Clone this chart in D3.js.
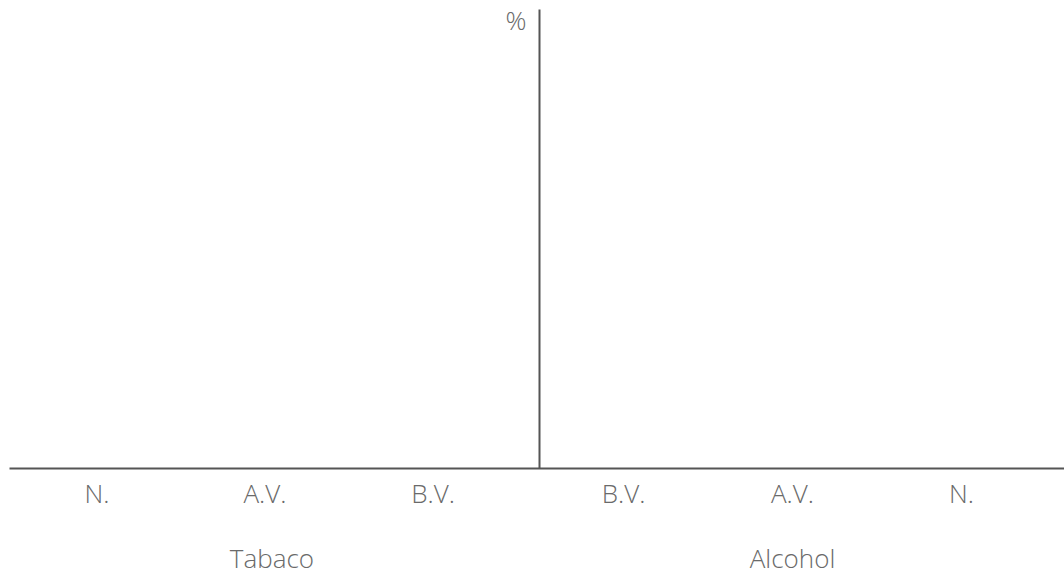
<!DOCTYPE html>
<html>
<head>
<meta charset="utf-8">
<script src="https://cdn.jsdelivr.net/npm/d3@7"></script>
<style>
  html, body { margin: 0; padding: 0; background: #fff; }
  svg text { font-family: "Open Sans", "Lato", sans-serif; font-weight: 300; fill: #6a6a6a; }
</style>
</head>
<body>
<svg id="chart" width="1064" height="580"></svg>
<script>
// Data
const groups = ["Tabaco", "Alcohol"];
const tabacoCategories = ["N.", "A.V.", "B.V."];
const alcoholCategories = ["B.V.", "A.V.", "N."];
const tabacoValues = [];   // no bars shown in reference
const alcoholValues = [];  // no bars shown in reference
const yLabel = "%";

const W = 1064, H = 580;
const baseY = 468, topY = 9, leftX = 9, midX = 539, rightX = 1064;
const svg = d3.select("#chart");

const xLeft = d3.scaleBand().domain(tabacoCategories).range([13, 517]);
const xRight = d3.scaleBand().domain(alcoholCategories).range([539, 1046]);
const y = d3.scaleLinear().domain([0, 100]).range([baseY, topY]);

// Horizontal baseline
const xFull = d3.scaleLinear().domain([0, 1]).range([leftX, rightX]);
const gx = svg.append("g").attr("transform", `translate(0,${baseY})`)
  .call(d3.axisBottom(xFull).tickValues([]).tickSizeOuter(0));
gx.select(".domain").attr("stroke", "#555").attr("stroke-width", 2);

// Vertical axis
const gy = svg.append("g").attr("transform", `translate(${midX},0)`)
  .call(d3.axisLeft(y).tickValues([]).tickSizeOuter(0));
gy.select(".domain").attr("stroke", "#555").attr("stroke-width", 2);

// Category labels
svg.append("g").selectAll("text").data(tabacoCategories).join("text")
  .attr("x", d => xLeft(d) + xLeft.bandwidth() / 2)
  .attr("y", 503).attr("text-anchor", "middle").attr("font-size", 26)
  .text(d => d);
svg.append("g").selectAll("text").data(alcoholCategories).join("text")
  .attr("x", d => xRight(d) + xRight.bandwidth() / 2)
  .attr("y", 503).attr("text-anchor", "middle").attr("font-size", 26)
  .text(d => d);

// Group labels
const groupScales = [xLeft, xRight];
svg.append("g").selectAll("text").data(groups).join("text")
  .attr("x", (d, i) => { const r = groupScales[i].range(); return (r[0] + r[1]) / 2 + (i === 0 ? 7 : 0); })
  .attr("y", 568).attr("text-anchor", "middle").attr("font-size", 26)
  .text(d => d);

// % label
svg.append("text").attr("x", 516).attr("y", 30).attr("text-anchor", "middle")
  .attr("font-size", 26).text(yLabel);
</script>
</body>
</html>
